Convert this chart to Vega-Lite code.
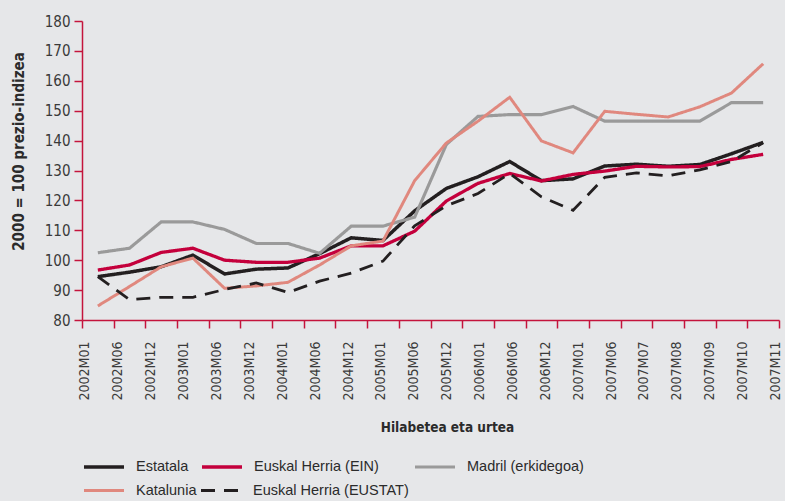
{
  "$schema": "https://vega.github.io/schema/vega-lite/v6.json",
  "autosize": {"type": "none"},
  "width": 697,
  "height": 299,
  "padding": {"left": 82, "top": 21, "right": 6, "bottom": 181},
  "background": "#e6e7e9",
  "config": {
    "view": {"stroke": null},
    "font": "DejaVu Sans Condensed, sans-serif",
    "legend": {
      "title": null, "orient": "none", "legendX": 0, "legendY": 424,
      "direction": "horizontal", "columns": 3, "gridAlign": "none", "columnPadding": -2, "rowPadding": -5,
      "symbolType": "stroke", "symbolSize": 1600, "labelOffset": 10,
      "labelFont": "Liberation Sans", "labelFontSize": 14.5, "labelColor": "#2b2b2b"
    }
  },
  "data": {"values": [
    {"month":"2002M01","series":"Estatala","value":94.5},{"month":"2002M01","series":"Euskal Herria (EIN)","value":96.7},{"month":"2002M01","series":"Madril (erkidegoa)","value":102.5},{"month":"2002M01","series":"Katalunia","value":84.7},{"month":"2002M01","series":"Euskal Herria (EUSTAT)","value":94.5},
    {"month":"2002M06","series":"Estatala","value":96.0},{"month":"2002M06","series":"Euskal Herria (EIN)","value":98.4},{"month":"2002M06","series":"Madril (erkidegoa)","value":104.0},{"month":"2002M06","series":"Katalunia","value":91.2},{"month":"2002M06","series":"Euskal Herria (EUSTAT)","value":86.8},
    {"month":"2002M12","series":"Estatala","value":97.8},{"month":"2002M12","series":"Euskal Herria (EIN)","value":102.6},{"month":"2002M12","series":"Madril (erkidegoa)","value":112.8},{"month":"2002M12","series":"Katalunia","value":97.8},{"month":"2002M12","series":"Euskal Herria (EUSTAT)","value":87.6},
    {"month":"2003M01","series":"Estatala","value":101.7},{"month":"2003M01","series":"Euskal Herria (EIN)","value":104.0},{"month":"2003M01","series":"Madril (erkidegoa)","value":112.8},{"month":"2003M01","series":"Katalunia","value":100.7},{"month":"2003M01","series":"Euskal Herria (EUSTAT)","value":87.6},
    {"month":"2003M06","series":"Estatala","value":95.4},{"month":"2003M06","series":"Euskal Herria (EIN)","value":100.0},{"month":"2003M06","series":"Madril (erkidegoa)","value":110.3},{"month":"2003M06","series":"Katalunia","value":90.6},{"month":"2003M06","series":"Euskal Herria (EUSTAT)","value":90.2},
    {"month":"2003M12","series":"Estatala","value":97.0},{"month":"2003M12","series":"Euskal Herria (EIN)","value":99.3},{"month":"2003M12","series":"Madril (erkidegoa)","value":105.6},{"month":"2003M12","series":"Katalunia","value":91.4},{"month":"2003M12","series":"Euskal Herria (EUSTAT)","value":92.4},
    {"month":"2004M01","series":"Estatala","value":97.4},{"month":"2004M01","series":"Euskal Herria (EIN)","value":99.3},{"month":"2004M01","series":"Madril (erkidegoa)","value":105.6},{"month":"2004M01","series":"Katalunia","value":92.6},{"month":"2004M01","series":"Euskal Herria (EUSTAT)","value":89.2},
    {"month":"2004M06","series":"Estatala","value":102.2},{"month":"2004M06","series":"Euskal Herria (EIN)","value":100.7},{"month":"2004M06","series":"Madril (erkidegoa)","value":102.3},{"month":"2004M06","series":"Katalunia","value":98.4},{"month":"2004M06","series":"Euskal Herria (EUSTAT)","value":93.0},
    {"month":"2004M12","series":"Estatala","value":107.5},{"month":"2004M12","series":"Euskal Herria (EIN)","value":104.8},{"month":"2004M12","series":"Madril (erkidegoa)","value":111.4},{"month":"2004M12","series":"Katalunia","value":104.8},{"month":"2004M12","series":"Euskal Herria (EUSTAT)","value":95.7},
    {"month":"2005M01","series":"Estatala","value":106.6},{"month":"2005M01","series":"Euskal Herria (EIN)","value":104.8},{"month":"2005M01","series":"Madril (erkidegoa)","value":111.4},{"month":"2005M01","series":"Katalunia","value":106.4},{"month":"2005M01","series":"Euskal Herria (EUSTAT)","value":99.7},
    {"month":"2005M06","series":"Estatala","value":116.5},{"month":"2005M06","series":"Euskal Herria (EIN)","value":109.7},{"month":"2005M06","series":"Madril (erkidegoa)","value":114.4},{"month":"2005M06","series":"Katalunia","value":126.6},{"month":"2005M06","series":"Euskal Herria (EUSTAT)","value":111.5},
    {"month":"2005M12","series":"Estatala","value":124.0},{"month":"2005M12","series":"Euskal Herria (EIN)","value":119.8},{"month":"2005M12","series":"Madril (erkidegoa)","value":138.7},{"month":"2005M12","series":"Katalunia","value":139.2},{"month":"2005M12","series":"Euskal Herria (EUSTAT)","value":118.2},
    {"month":"2006M01","series":"Estatala","value":127.9},{"month":"2006M01","series":"Euskal Herria (EIN)","value":125.7},{"month":"2006M01","series":"Madril (erkidegoa)","value":148.1},{"month":"2006M01","series":"Katalunia","value":146.5},{"month":"2006M01","series":"Euskal Herria (EUSTAT)","value":122.3},
    {"month":"2006M06","series":"Estatala","value":133.0},{"month":"2006M06","series":"Euskal Herria (EIN)","value":129.0},{"month":"2006M06","series":"Madril (erkidegoa)","value":148.7},{"month":"2006M06","series":"Katalunia","value":154.5},{"month":"2006M06","series":"Euskal Herria (EUSTAT)","value":129.0},
    {"month":"2006M12","series":"Estatala","value":126.6},{"month":"2006M12","series":"Euskal Herria (EIN)","value":126.5},{"month":"2006M12","series":"Madril (erkidegoa)","value":148.7},{"month":"2006M12","series":"Katalunia","value":139.9},{"month":"2006M12","series":"Euskal Herria (EUSTAT)","value":121.2},
    {"month":"2007M01","series":"Estatala","value":127.2},{"month":"2007M01","series":"Euskal Herria (EIN)","value":128.7},{"month":"2007M01","series":"Madril (erkidegoa)","value":151.4},{"month":"2007M01","series":"Katalunia","value":135.9},{"month":"2007M01","series":"Euskal Herria (EUSTAT)","value":116.7},
    {"month":"2007M06","series":"Estatala","value":131.5},{"month":"2007M06","series":"Euskal Herria (EIN)","value":129.8},{"month":"2007M06","series":"Madril (erkidegoa)","value":146.5},{"month":"2007M06","series":"Katalunia","value":149.8},{"month":"2007M06","series":"Euskal Herria (EUSTAT)","value":127.7},
    {"month":"2007M07","series":"Estatala","value":132.1},{"month":"2007M07","series":"Euskal Herria (EIN)","value":131.4},{"month":"2007M07","series":"Madril (erkidegoa)","value":146.5},{"month":"2007M07","series":"Katalunia","value":148.8},{"month":"2007M07","series":"Euskal Herria (EUSTAT)","value":129.2},
    {"month":"2007M08","series":"Estatala","value":131.4},{"month":"2007M08","series":"Euskal Herria (EIN)","value":131.2},{"month":"2007M08","series":"Madril (erkidegoa)","value":146.5},{"month":"2007M08","series":"Katalunia","value":147.9},{"month":"2007M08","series":"Euskal Herria (EUSTAT)","value":128.2},
    {"month":"2007M09","series":"Estatala","value":132.0},{"month":"2007M09","series":"Euskal Herria (EIN)","value":131.3},{"month":"2007M09","series":"Madril (erkidegoa)","value":146.5},{"month":"2007M09","series":"Katalunia","value":151.3},{"month":"2007M09","series":"Euskal Herria (EUSTAT)","value":130.2},
    {"month":"2007M10","series":"Estatala","value":135.6},{"month":"2007M10","series":"Euskal Herria (EIN)","value":133.7},{"month":"2007M10","series":"Madril (erkidegoa)","value":152.7},{"month":"2007M10","series":"Katalunia","value":155.9},{"month":"2007M10","series":"Euskal Herria (EUSTAT)","value":133.0},
    {"month":"2007M11","series":"Estatala","value":139.4},{"month":"2007M11","series":"Euskal Herria (EIN)","value":135.4},{"month":"2007M11","series":"Madril (erkidegoa)","value":152.7},{"month":"2007M11","series":"Katalunia","value":165.7},{"month":"2007M11","series":"Euskal Herria (EUSTAT)","value":139.3}
  ]},
  "mark": {"type": "line", "strokeJoin": "miter", "strokeCap": "butt"},
  "encoding": {
    "x": {
      "field": "month", "type": "ordinal", "sort": null, "bandPosition": 0.5,
      "scale": {"type": "band", "paddingInner": 0, "paddingOuter": 0},
      "axis": {
        "title": "Hilabetea eta urtea",
        "titleFontSize": 13.5, "titleFontWeight": "bold", "titleColor": "#2b2b2b",
        "titleX": 365, "titleY": 107, "titleBaseline": "middle", "titleAlign": "center",
        "labelAngle": -90, "labelAlign": "right", "labelBaseline": "middle",
        "labelFontSize": 14, "labelColor": "#3a3a3a", "labelPadding": 13,
        "labelOffset": {"expr": "-12.85 + 1.2 * indexof(domain('x'), datum.value)"},
        "tickBand": "extent", "tickSize": 8, "tickColor": "#c4143c", "tickWidth": 1.5,
        "domainColor": "#c4143c", "domainWidth": 1.5, "grid": false
      }
    },
    "y": {
      "field": "value", "type": "quantitative",
      "scale": {"domain": [80, 180], "nice": false, "zero": false},
      "axis": {
        "title": "2000 = 100 prezio-indizea",
        "titleFontSize": 15, "titleFontWeight": "bold", "titleColor": "#2b2b2b",
        "titleX": -64, "titleY": 130, "titleBaseline": "middle", "titleAlign": "center", "titleAngle": -90,
        "values": [80, 90, 100, 110, 120, 130, 140, 150, 160, 170, 180],
        "labelFontSize": 15, "labelColor": "#3a3a3a", "labelPadding": 4,
        "tickSize": 8, "tickColor": "#c4143c", "tickWidth": 1.5,
        "domainColor": "#c4143c", "domainWidth": 1.5, "grid": false
      }
    },
    "color": {
      "field": "series", "type": "nominal",
      "scale": {
        "domain": ["Estatala", "Euskal Herria (EIN)", "Madril (erkidegoa)", "Katalunia", "Euskal Herria (EUSTAT)"],
        "range": ["#231f20", "#c4003c", "#9a9a9a", "#e0887e", "#231f20"]
      }
    },
    "strokeDash": {
      "field": "series", "type": "nominal",
      "scale": {
        "domain": ["Estatala", "Euskal Herria (EIN)", "Madril (erkidegoa)", "Katalunia", "Euskal Herria (EUSTAT)"],
        "range": [[1, 0], [1, 0], [1, 0], [1, 0], [14, 9]]
      }
    },
    "strokeWidth": {
      "field": "series", "type": "nominal",
      "scale": {
        "domain": ["Estatala", "Euskal Herria (EIN)", "Madril (erkidegoa)", "Katalunia", "Euskal Herria (EUSTAT)"],
        "range": [3.5, 2.8, 2.8, 2.8, 3]
      }
    }
  }
}
